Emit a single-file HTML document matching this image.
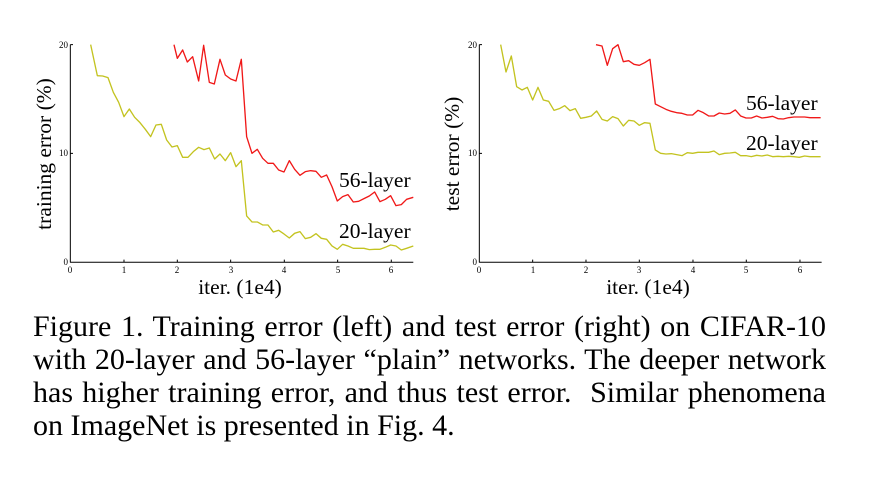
<!DOCTYPE html>
<html><head><meta charset="utf-8"><style>
html,body{margin:0;padding:0;background:#fff;width:879px;height:479px;overflow:hidden}
.cap{position:absolute;left:33px;top:310px;width:793px;font-family:"Liberation Serif",serif;font-size:30px;line-height:33px;color:#000;white-space:nowrap}
.cap div{text-align:justify;text-align-last:justify}
.cap div.l{text-align-last:left}
</style></head><body>
<svg width="879" height="479" style="position:absolute;left:0;top:0" font-family="Liberation Serif, serif">
<g transform="translate(30,30) scale(0.3333)" fill="none" stroke-width="4" stroke-linejoin="round">
<path d="M121,44V697H1150" stroke="#000" stroke-width="3"/>
<path d="M121,370h8M121,44h8M282,697v-8M442,697v-8M602,697v-8M763,697v-8M923,697v-8M1084,697v-8" stroke="#000" stroke-width="3"/>
<polyline stroke="#f01818" points="432,44 442,85 458,60 472,96 488,80 506,153 521,46 538,157 553,162 570,88 586,135 602,147 618,153 634,88 650,320 666,370 682,358 698,385 714,400 730,400 746,420 762,426 778,392 794,418 810,436 826,425 842,422 858,424 874,442 890,435 906,470 922,513 938,500 954,494 970,516 986,514 1002,506 1018,498 1034,486 1050,515 1066,508 1082,497 1098,527 1114,524 1130,508 1150,502"/>
<polyline stroke="#c3c320" points="182,44 202,137 218,138 234,143 250,187 266,217 282,260 298,237 314,262 330,278 346,298 362,320 378,285 394,283 410,330 426,351 442,347 458,382 474,382 490,365 506,352 522,359 538,354 554,387 570,372 586,392 602,368 618,410 634,392 650,558 666,576 682,576 698,585 714,585 730,606 746,601 762,612 778,624 794,610 810,605 826,626 842,622 858,611 874,625 890,628 906,648 922,658 938,643 954,648 970,655 986,655 1002,655 1018,659 1034,658 1050,658 1066,652 1082,645 1098,648 1114,660 1130,655 1150,648"/>
</g>
<g transform="translate(440,30) scale(0.3333)" fill="none" stroke-width="4" stroke-linejoin="round">
<path d="M118,44V697H1145" stroke="#000" stroke-width="3"/>
<path d="M118,370h8M118,44h8M278,697v-8M438,697v-8M598,697v-8M759,697v-8M919,697v-8M1080,697v-8" stroke="#000" stroke-width="3"/>
<polyline stroke="#f01818" points="468,44 486,48 502,106 518,56 534,44 550,95 566,92 582,103 598,106 614,98 630,88 646,222 662,230 678,238 694,244 710,248 726,250 742,255 758,255 774,241 790,248 806,258 822,258 838,249 854,252 870,250 886,240 902,258 918,264 934,264 950,258 966,264 982,262 998,259 1014,266 1030,267 1046,263 1062,261 1078,261 1094,261 1110,263 1142,263"/>
<polyline stroke="#c3c320" points="182,44 198,126 214,78 230,170 246,180 262,172 278,210 294,172 310,210 326,214 342,241 358,236 374,227 390,242 406,236 422,265 438,262 454,258 470,243 486,268 502,273 518,260 534,266 550,288 566,271 582,273 598,286 614,278 630,280 646,360 662,370 678,372 694,371 710,374 726,377 742,368 758,370 774,367 790,367 806,367 822,363 838,374 854,370 870,369 886,367 902,377 918,377 934,380 950,376 966,378 982,375 998,380 1014,379 1030,380 1046,379 1062,380 1078,382 1094,378 1110,380 1142,380"/>
</g>
<g font-size="9" fill="#000">
<text x="68" y="48" text-anchor="end">20</text><text x="68" y="156" text-anchor="end">10</text><text x="68" y="265" text-anchor="end">0</text>
<g text-anchor="middle"><text x="70" y="273">0</text><text x="124" y="273">1</text><text x="177" y="273">2</text><text x="231" y="273">3</text><text x="284" y="273">4</text><text x="338" y="273">5</text><text x="391" y="273">6</text></g>
<text x="477" y="48" text-anchor="end">20</text><text x="477" y="156" text-anchor="end">10</text><text x="477" y="265" text-anchor="end">0</text>
<g text-anchor="middle"><text x="479" y="273">0</text><text x="533" y="273">1</text><text x="586" y="273">2</text><text x="639" y="273">3</text><text x="693" y="273">4</text><text x="746" y="273">5</text><text x="800" y="273">6</text></g>
</g>
<g font-size="21.5" fill="#000">
<text x="240" y="294" text-anchor="middle">iter. (1e4)</text>
<text x="648" y="294" text-anchor="middle">iter. (1e4)</text>
<text transform="translate(51,154) rotate(-90)" text-anchor="middle">training error (%)</text>
<text transform="translate(459,154) rotate(-90)" text-anchor="middle">test error (%)</text>
</g>
<g font-size="21.5" fill="#000">
<text x="339" y="187">56-layer</text><text x="339" y="238">20-layer</text>
<text x="746" y="110">56-layer</text><text x="746" y="150">20-layer</text>
</g>
</svg>
<div class="cap">
<div>Figure 1. Training error (left) and test error (right) on CIFAR-10</div>
<div>with 20-layer and 56-layer “plain” networks. The deeper network</div>
<div>has higher training error, and thus test error.&nbsp; Similar phenomena</div>
<div class="l">on ImageNet is presented in Fig. 4.</div>
</div>
</body></html>
